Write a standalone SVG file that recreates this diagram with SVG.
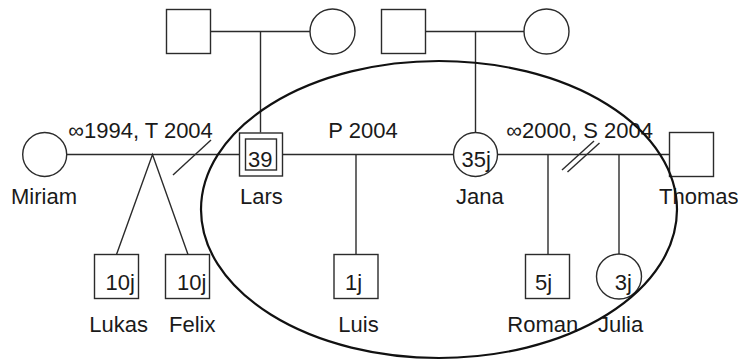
<svg xmlns="http://www.w3.org/2000/svg" width="738" height="360" viewBox="0 0 738 360">
  <style>
    .n { fill: none; stroke: #2b2b2b; stroke-width: 1.4; }
    .c { fill: none; stroke: #2b2b2b; stroke-width: 1.4; }
    .t { font-family: "Liberation Sans", Arial, sans-serif; font-size: 22px; fill: #1a1a1a; }
    .hh { fill: none; stroke: #111; stroke-width: 2.2; }
  </style>
  <rect width="738" height="360" fill="#ffffff"/>

  <g id="connectors">
    <path class="c" d="M211 31.5 H310"/>
    <path class="c" d="M260.5 31.5 V132.5"/>
    <path class="c" d="M425.5 31.5 H524"/>
    <path class="c" d="M475.5 31.5 V132.5"/>
    <path class="c" d="M66.7 154.5 H239.5"/>
    <path class="c" d="M282.5 154.5 H453.5"/>
    <path class="c" d="M497.5 154.5 H669.5"/>
    <path class="c" d="M116.5 254.5 L152.5 154.5 L188 254.5"/>
    <path class="c" d="M173 175 L211 140"/>
    <path class="c" d="M356 154.5 V254.5"/>
    <path class="c" d="M548 154.5 V254.5"/>
    <path class="c" d="M619 154.5 V254"/>
    <path class="c" d="M562 170 L594 141"/>
    <path class="c" d="M567.5 172 L599.5 143"/>
  </g>

  <g id="father-lars">
    <rect class="n" x="166.5" y="9.5" width="44" height="44"/>
  </g>
  <g id="mother-lars">
    <circle class="n" cx="332.5" cy="31.5" r="22.5"/>
  </g>
  <g id="father-jana">
    <rect class="n" x="381.5" y="9.5" width="44" height="44"/>
  </g>
  <g id="mother-jana">
    <circle class="n" cx="546.5" cy="31.5" r="22.5"/>
  </g>

  <g id="miriam">
    <circle class="n" cx="44.7" cy="154.5" r="22"/>
    <text class="t" x="11" y="203.5">Miriam</text>
  </g>
  <g id="lars">
    <rect class="n" x="239.5" y="133" width="43" height="43"/>
    <rect class="n" x="245.5" y="139" width="31" height="31"/>
    <text class="t" x="248" y="167">39</text>
    <text class="t" x="240" y="203.5">Lars</text>
  </g>
  <g id="jana">
    <circle class="n" cx="475.5" cy="154.5" r="22"/>
    <text class="t" x="461.5" y="167">35j</text>
    <text class="t" x="456" y="203.5">Jana</text>
  </g>
  <g id="thomas">
    <rect class="n" x="669.5" y="132.5" width="44" height="44"/>
    <text class="t" x="659" y="203.5">Thomas</text>
  </g>

  <g id="lukas">
    <rect class="n" x="94.5" y="254.5" width="44" height="44"/>
    <text class="t" x="105.5" y="290">10j</text>
    <text class="t" x="89.3" y="331.5">Lukas</text>
  </g>
  <g id="felix">
    <rect class="n" x="165.5" y="254.5" width="44" height="44"/>
    <text class="t" x="177" y="290">10j</text>
    <text class="t" x="169" y="331.5">Felix</text>
  </g>
  <g id="luis">
    <rect class="n" x="334" y="254.5" width="44" height="44"/>
    <text class="t" x="345" y="290">1j</text>
    <text class="t" x="338.3" y="331.5">Luis</text>
  </g>
  <g id="roman">
    <rect class="n" x="525.5" y="254.5" width="44" height="44"/>
    <text class="t" x="535" y="290">5j</text>
    <text class="t" x="507.3" y="331.5">Roman</text>
  </g>
  <g id="julia">
    <circle class="n" cx="619" cy="276.5" r="22.5"/>
    <text class="t" x="614.7" y="290">3j</text>
    <text class="t" x="598" y="331.5">Julia</text>
  </g>

  <g id="relationship-labels">
    <text class="t" x="68.3" y="137.7">∞1994, T 2004</text>
    <text class="t" x="328.3" y="137.7">P 2004</text>
    <text class="t" x="506.3" y="137.7">∞2000, S 2004</text>
  </g>

  <g id="household">
    <ellipse class="hh" cx="439" cy="209.5" rx="238" ry="148.5"/>
  </g>
</svg>
